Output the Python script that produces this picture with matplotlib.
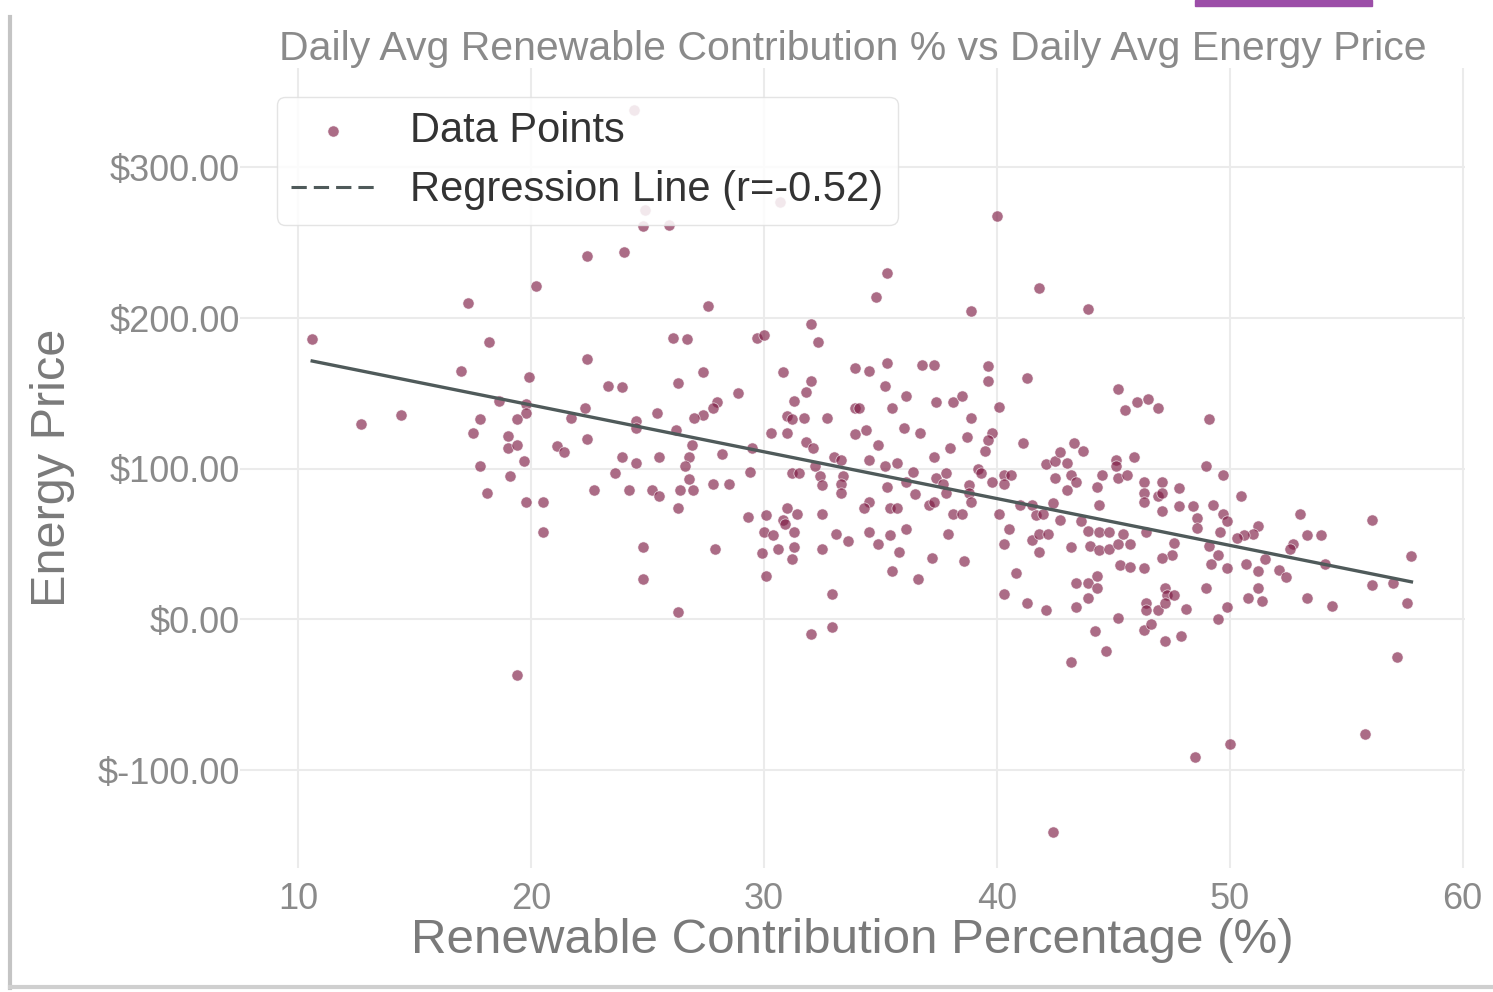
import numpy as np
import matplotlib
matplotlib.use("Agg")
import matplotlib.pyplot as plt
from matplotlib.ticker import FuncFormatter
from matplotlib.patches import Rectangle
from matplotlib.lines import Line2D

plt.rcParams['font.family'] = ['Liberation Sans', 'DejaVu Sans']

# daily averages: renewable share (%) and energy price ($)
renewable_pct = [
    10.6, 12.7, 14.4, 17.3, 18.2, 17.0, 20.2, 19.9, 22.4, 24.0, 24.8, 25.9, 22.4, 23.3, 23.9,
    18.6, 19.8, 19.8, 17.8, 19.4, 17.5, 19.0, 19.0, 19.4, 21.1, 21.4, 21.7, 22.3, 22.4, 24.5,
    24.5, 25.4, 26.1, 17.8, 19.7, 19.1, 18.1, 19.8, 20.5, 22.7, 23.6, 23.9, 24.5, 25.5, 24.2,
    25.2, 25.5, 26.3, 26.2, 26.3, 24.9, 24.4, 30.7,
    20.5, 24.8, 24.8, 19.4, 26.3,
    40.0, 35.3, 34.8, 41.8, 38.9, 27.6, 26.7, 29.7, 30.0, 32.0, 32.3, 27.4, 28.9, 28.0, 27.8,
    27.4, 27.0, 30.8, 32.0, 31.8, 31.3, 31.0, 31.2, 31.7, 32.7, 30.3, 31.0, 31.8, 32.1, 29.5,
    28.2, 26.9, 26.8, 26.6, 29.4, 26.8, 26.95, 26.4, 27.8, 28.5, 31.2, 31.5, 32.2, 32.4, 32.5,
    33.0, 33.3, 33.4, 33.3, 33.3, 33.9, 34.5, 35.3, 35.2, 36.1, 36.8, 37.3, 33.9, 34.1, 35.5,
    37.4, 38.1, 38.5, 39.6, 39.6, 41.3, 40.1, 38.9, 33.9, 34.4, 34.9, 36.0, 36.7, 38.0, 38.7,
    39.8, 39.6, 39.5, 41.1, 34.5, 35.2, 35.7, 36.4, 36.1, 35.3, 36.5, 37.3, 37.4, 37.8, 37.7,
    37.8, 38.8, 38.8, 38.9, 39.2, 39.3, 39.8, 40.3, 40.6, 40.3, 42.1, 42.5, 42.5, 42.7, 43.0,
    41.0, 41.5, 41.7, 42.0, 42.4, 42.7, 40.1, 34.5, 34.3, 35.4, 35.7, 37.1, 37.3, 38.1, 38.5,
    32.5, 31.0, 31.4, 30.1, 29.3,
    27.9, 30.0, 30.4, 30.8, 30.9, 31.3, 31.3, 31.2, 30.6, 29.9, 30.1, 33.1, 33.6, 32.5, 32.9,
    32.9, 32.0, 34.5, 34.9, 35.4, 36.1, 35.8, 35.5, 36.6, 37.2, 37.9, 38.6, 40.5, 40.3, 40.8,
    40.3, 41.3, 42.1, 41.5, 41.8, 42.2, 41.8, 42.4,
    43.9, 45.2, 45.5, 46.0, 46.5, 46.9, 49.1, 43.3, 43.7, 43.2, 43.4, 43.0, 45.1, 45.1, 45.2,
    45.9, 44.5, 45.6, 44.3, 44.4, 46.3, 47.1, 46.3, 46.9, 47.1, 46.3, 47.8, 49.0, 49.7, 50.5,
    47.1, 47.8, 48.4, 49.3, 49.7, 53.0, 56.1,
    53.3, 53.9, 57.8, 54.1, 56.1, 57.0, 57.6, 53.3, 54.4, 57.2, 55.8, 50.0, 48.5, 52.7, 52.6,
    51.2, 51.0, 50.6, 50.3, 51.5, 52.1, 52.4, 51.2, 50.7, 51.2, 50.8, 51.4, 49.9, 49.5, 49.9,
    49.1, 49.5, 49.2, 49.9, 49.6, 48.6, 48.6, 47.6, 47.5, 47.1, 49.0, 47.2, 47.3, 47.6, 46.4,
    46.4, 46.9, 47.2, 48.1, 46.3, 46.6, 47.2, 47.9, 45.2, 44.2, 44.7, 43.2, 43.4, 43.9, 43.4,
    43.9, 44.3, 44.3, 45.3, 45.7, 46.3, 43.2, 44.0, 44.4, 44.8, 45.2, 45.7, 43.9, 44.4, 44.8,
    45.4, 46.4, 43.6,
]
energy_price = [
    186, 130, 136, 210, 184, 165, 221, 161, 241, 244, 261, 262, 173, 155, 154,
    145, 143, 137, 133, 133, 124, 122, 114, 116, 115, 111, 134, 140, 120, 132,
    127, 137, 187, 102, 105, 95, 84, 78, 78, 86, 97, 108, 104, 108, 86,
    86, 82, 157, 126, 74, 272, 338, 277,
    58, 48, 27, -37, 5,
    268, 230, 214, 220, 205, 208, 186, 187, 189, 196, 184, 164, 150, 144, 140,
    136, 134, 164, 158, 151, 145, 135, 133, 134, 134, 124, 124, 118, 114, 114,
    110, 116, 108, 102, 98, 93, 86, 86, 90, 90, 97, 97, 102, 95, 89,
    108, 106, 95, 90, 84, 167, 165, 170, 155, 148, 169, 169, 140, 140, 140,
    144, 144, 148, 168, 158, 160, 141, 134, 123, 126, 116, 127, 124, 114, 121,
    124, 119, 112, 117, 106, 102, 104, 98, 91, 88, 83, 108, 94, 97, 90,
    84, 89, 84, 78, 100, 97, 91, 96, 96, 90, 103, 105, 94, 111, 104,
    76, 76, 69, 70, 77, 66, 70, 78, 74, 74, 74, 76, 78, 70, 70,
    70, 74, 70, 69, 68,
    47, 58, 56, 66, 63, 58, 48, 40, 47, 44, 29, 57, 52, 47, 17,
    -5, -10, 58, 50, 56, 60, 45, 32, 27, 41, 57, 39, 60, 50, 31,
    17, 11, 6, 53, 57, 57, 45, -141,
    206, 153, 139, 144, 146, 140, 133, 117, 112, 96, 91, 86, 106, 102, 94,
    108, 96, 96, 88, 76, 91, 91, 84, 82, 84, 78, 87, 102, 96, 82,
    72, 75, 75, 76, 70, 70, 66,
    56, 56, 42, 37, 23, 24, 11, 14, 9, -25, -76, -83, -91, 50, 47,
    62, 57, 56, 54, 40, 33, 28, 21, 37, 32, 14, 12, 8, 0, 34,
    49, 43, 37, 65, 58, 67, 61, 51, 43, 41, 21, 21, 16, 16, 11,
    6, 6, 11, 7, -7, -3, -14, -11, 1, -8, -21, -28, 8, 14, 24,
    24, 29, 21, 36, 35, 34, 48, 49, 46, 47, 50, 50, 59, 58, 58,
    57, 58, 65,
]
r_label = "-0.52"

x = np.array(renewable_pct)
y = np.array(energy_price)
slope, intercept = np.polyfit(x, y, 1)
line_x = np.array([x.min(), x.max()])

fig = plt.figure(figsize=(14.93, 9.92), dpi=100)
ax = fig.add_axes([240 / 1493, 124 / 992, (1465 - 240) / 1493, 800 / 992])

pts = ax.scatter(x, y, s=65, color='#7f1d45', alpha=0.65, edgecolors='white',
                 linewidths=0.6, zorder=3)
ax.plot(line_x, slope * line_x + intercept, color='#4f5a5a', linewidth=2.4, zorder=4)
line_handle = Line2D([], [], linestyle='--', dashes=(5, 2.3), color='#4f5a5a', linewidth=2.2)

ax.set_xlim(7.5, 60.1)
ax.set_ylim(-165, 366)
ax.set_xticks([10, 20, 30, 40, 50, 60])
ax.set_yticks([-100, 0, 100, 200, 300])
ax.yaxis.set_major_formatter(FuncFormatter(lambda v, p: f"${v:.2f}"))

ax.grid(True, color='#ebebeb', linewidth=1.5)
ax.set_axisbelow(True)
for s in ax.spines.values():
    s.set_visible(False)
ax.tick_params(length=0, labelsize=26, labelcolor='#8a8a8a', pad=0)
ax.tick_params(axis='x', pad=10)

ax.set_title('Daily Avg Renewable Contribution % vs Daily Avg Energy Price',
             fontsize=29.5, color='#8a8a8a', pad=0)
ax.set_xlabel('Renewable Contribution Percentage (%)', fontsize=35.5, color='#7a7a7a', labelpad=1)
ax.set_ylabel('Energy Price', fontsize=35, color='#7a7a7a', labelpad=16)

leg = ax.legend([pts, line_handle], ['Data Points', f'Regression Line (r={r_label})'],
                loc='upper left', bbox_to_anchor=(0.03, 0.964), borderaxespad=0,
                fontsize=30, frameon=True, framealpha=0.85, edgecolor='#e0e0e0',
                fancybox=True, borderpad=0.35, labelspacing=0.45, handlelength=2.0,
                handletextpad=0.85)
for t in leg.get_texts():
    t.set_color('#333333')

# page border and top tab
fig.add_artist(Line2D([10 / 1493, 10 / 1493], [4 / 992, 975 / 992], color='#c4c4c4', linewidth=3))
fig.add_artist(Line2D([10 / 1493, 1.0], [5 / 992, 5 / 992], color='#cfcfcf', linewidth=3))
fig.add_artist(Rectangle((1195 / 1493, 986 / 992), 177 / 1493, 6 / 992,
                         transform=fig.transFigure, color='#9c4ea8'))

fig.savefig('out.png', dpi=100)
